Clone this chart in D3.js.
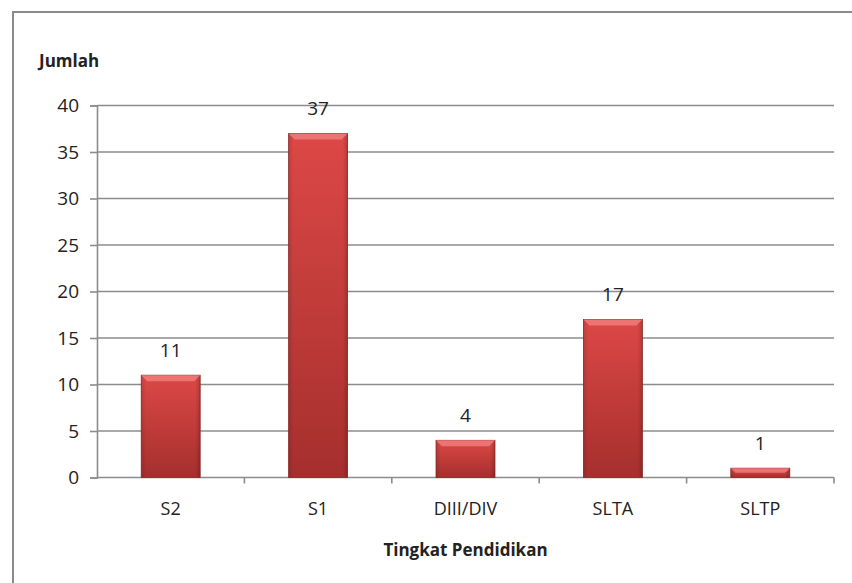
<!DOCTYPE html>
<html>
<head>
<meta charset="utf-8">
<script src="https://cdn.jsdelivr.net/npm/d3@7"></script>
<style>
  body { margin: 0; background: #fff; }
  svg text { font-family: "Open Sans", "Noto Sans", sans-serif; fill: #222; }
</style>
</head>
<body>
<div id="chart"></div>
<script>
// data
var categories = ["S2", "S1", "DIII/DIV", "SLTA", "SLTP"];
var jumlah = [11, 37, 4, 17, 1];
var yTicks = [0, 5, 10, 15, 20, 25, 30, 35, 40];

var W = 852, H = 583;
var plot = {left: 97, right: 834, top: 105.5, bottom: 477.5};

var svg = d3.select("#chart").append("svg")
    .attr("width", W).attr("height", H);

// gradient for bars
var defs = svg.append("defs");
var g = defs.append("linearGradient").attr("id", "barGrad")
    .attr("x1", 0).attr("y1", 0).attr("x2", 0).attr("y2", 1);
g.append("stop").attr("offset", "0%").attr("stop-color", "#dc4846");
g.append("stop").attr("offset", "100%").attr("stop-color", "#a52f2d");
var gs = defs.append("linearGradient").attr("id", "sideGrad")
    .attr("x1", 0).attr("y1", 0).attr("x2", 1).attr("y2", 0);
gs.append("stop").attr("offset", "0%").attr("stop-color", "#000").attr("stop-opacity", 0.12);
gs.append("stop").attr("offset", "8%").attr("stop-color", "#000").attr("stop-opacity", 0);
gs.append("stop").attr("offset", "92%").attr("stop-color", "#000").attr("stop-opacity", 0);
gs.append("stop").attr("offset", "100%").attr("stop-color", "#000").attr("stop-opacity", 0.18);

// outer frame (continues past the window)
svg.append("rect")
    .attr("x", 13).attr("y", 12)
    .attr("width", W + 20).attr("height", H + 20)
    .attr("fill", "none").attr("stroke", "#8a8a8a").attr("stroke-width", 2);

var x = d3.scaleBand().domain(categories)
    .range([plot.left, plot.right]).paddingInner(0.6).paddingOuter(0.3);
var xb = d3.scaleBand().domain(categories).range([plot.left, plot.right]);
var y = d3.scaleLinear().domain([0, 40]).range([plot.bottom, plot.top]);

// gridlines
svg.append("g").selectAll("line")
    .data(yTicks.slice(1)).enter().append("line")
    .attr("x1", plot.left).attr("x2", plot.right)
    .attr("y1", function(d){ return y(d); })
    .attr("y2", function(d){ return y(d); })
    .attr("stroke", "#8c8c8c").attr("stroke-width", 1.6);

// y axis
var yAxis = svg.append("g")
    .attr("transform", "translate(" + plot.left + ",0)")
    .call(d3.axisLeft(y).tickValues(yTicks).tickSize(7).tickPadding(11));
yAxis.select(".domain").attr("stroke", "#8c8c8c").attr("stroke-width", 1.6);
yAxis.selectAll(".tick line").attr("stroke", "#8c8c8c").attr("stroke-width", 1.6);
yAxis.selectAll(".tick text").style("font-size", "19px").attr("fill", "#222");

// x axis
var xAxisLine = svg.append("g");
xAxisLine.append("line")
    .attr("x1", plot.left).attr("x2", plot.right)
    .attr("y1", plot.bottom).attr("y2", plot.bottom)
    .attr("stroke", "#8c8c8c").attr("stroke-width", 1.6);
xAxisLine.selectAll(".xt")
    .data(categories).enter().append("line")
    .attr("class", "xt")
    .attr("x1", function(d){ return xb(d) + xb.bandwidth(); })
    .attr("x2", function(d){ return xb(d) + xb.bandwidth(); })
    .attr("y1", plot.bottom).attr("y2", plot.bottom + 6)
    .attr("stroke", "#8c8c8c").attr("stroke-width", 1.6);
svg.append("g").selectAll("text")
    .data(categories).enter().append("text")
    .attr("x", function(d){ return xb(d) + xb.bandwidth() / 2; })
    .attr("y", 515)
    .attr("text-anchor", "middle")
    .style("font-size", "18px")
    .text(function(d){ return d; });

// bars
var bars = svg.append("g").selectAll("g")
    .data(jumlah).enter().append("g");
bars.append("rect")
    .attr("x", function(d, i){ return x(categories[i]); })
    .attr("y", function(d){ return y(d); })
    .attr("width", x.bandwidth())
    .attr("height", function(d){ return plot.bottom - y(d); })
    .attr("fill", "url(#barGrad)")
    .attr("stroke", "#8e2a28").attr("stroke-width", 0.8);
bars.append("rect")
    .attr("x", function(d, i){ return x(categories[i]); })
    .attr("y", function(d){ return y(d); })
    .attr("width", x.bandwidth())
    .attr("height", function(d){ return plot.bottom - y(d); })
    .attr("fill", "url(#sideGrad)");
// top bevel
bars.append("path")
    .attr("d", function(d, i){
        var x0 = x(categories[i]), x1 = x0 + x.bandwidth(), t = y(d);
        var b = Math.min(6, (plot.bottom - t) / 2);
        return "M" + x0 + "," + t + "L" + x1 + "," + t +
            "L" + (x1 - b) + "," + (t + b) + "L" + (x0 + b) + "," + (t + b) + "Z";
    })
    .attr("fill", "#ef7d7a").attr("opacity", 0.85);

// value labels
svg.append("g").selectAll("text")
    .data(jumlah).enter().append("text")
    .attr("x", function(d, i){ return x(categories[i]) + x.bandwidth() / 2; })
    .attr("y", function(d){ return y(d) - 18; })
    .attr("text-anchor", "middle")
    .style("font-size", "19px")
    .text(function(d){ return d; });

// axis titles
svg.append("text")
    .attr("x", 39).attr("y", 67)
    .style("font-size", "17px").style("font-weight", "bold")
    .text("Jumlah");
svg.append("text")
    .attr("x", (plot.left + plot.right) / 2).attr("y", 556)
    .attr("text-anchor", "middle")
    .style("font-size", "17px").style("font-weight", "bold")
    .text("Tingkat Pendidikan");
</script>
</body>
</html>
